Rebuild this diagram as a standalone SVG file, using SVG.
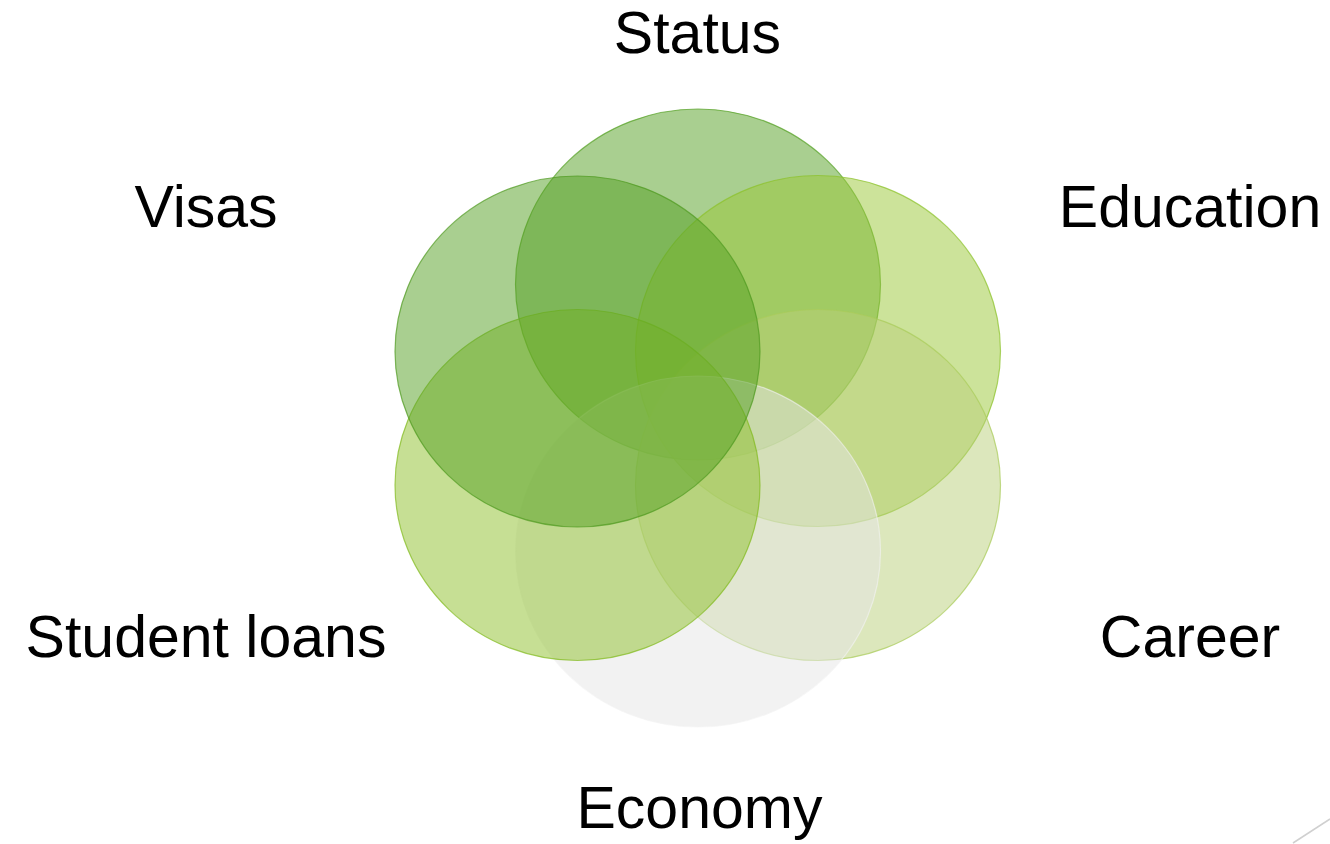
<svg xmlns="http://www.w3.org/2000/svg" width="1330" height="844" viewBox="0 0 1330 844">
<style>
.c { stroke-width: 1.2; }
.lbl { font-family: "Liberation Sans", Arial, sans-serif; font-size: 59px; fill: #000; text-anchor: middle; }
</style>
<rect width="1330" height="844" fill="#ffffff"/>
<g id="node-status"><ellipse class="c" cx="698" cy="284.5" rx="182.5" ry="175.5" fill="#539f21" fill-opacity="0.5" stroke="#539f21" stroke-opacity="0.7"/></g>
<g id="node-education"><ellipse class="c" cx="818" cy="351" rx="182.5" ry="175.5" fill="#99c735" fill-opacity="0.5" stroke="#8cc22a" stroke-opacity="0.7"/></g>
<g id="node-career"><ellipse class="c" cx="818" cy="485" rx="182.5" ry="175.5" fill="#b9cf79" fill-opacity="0.5" stroke="#a9cc5a" stroke-opacity="0.7"/></g>
<g id="node-economy"><ellipse class="c" cx="698" cy="551.5" rx="182.5" ry="175.5" fill="#e5e5e5" fill-opacity="0.5" stroke="#f4f4f4" stroke-opacity="0.6"/></g>
<g id="node-student-loans"><ellipse class="c" cx="577.5" cy="485" rx="182.5" ry="175.5" fill="#8dbf29" fill-opacity="0.5" stroke="#82bb1e" stroke-opacity="0.7"/></g>
<g id="node-visas"><ellipse class="c" cx="577.5" cy="351.5" rx="182.5" ry="175.5" fill="#539f21" fill-opacity="0.5" stroke="#4f9a20" stroke-opacity="0.7"/></g>
<g id="labels">
<text class="lbl" x="697.5" y="53">Status</text>
<text class="lbl" x="206" y="227">Visas</text>
<text class="lbl" x="1190" y="227">Education</text>
<text class="lbl" x="206" y="657">Student loans</text>
<text class="lbl" x="1190" y="657">Career</text>
<text class="lbl" x="699.5" y="828">Economy</text>
</g>
<g id="connectors"></g>
<line x1="1293" y1="843" x2="1330" y2="819" stroke="#d0d0d0" stroke-width="1.5"/>
</svg>
